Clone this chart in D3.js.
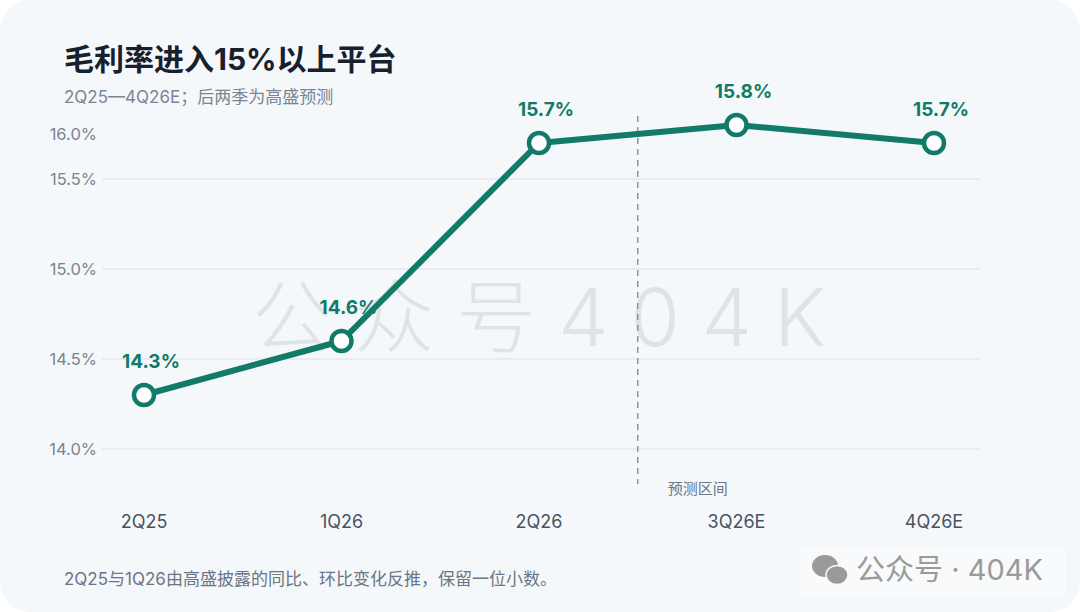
<!DOCTYPE html>
<html lang="zh">
<head>
<meta charset="UTF-8">
<title>毛利率进入15%以上平台</title>
<style>
  html, body { margin: 0; padding: 0; background: #ffffff; }
  svg { display: block; font-family: Inter, "Noto Sans CJK SC", sans-serif; }
</style>
</head>
<body>
<div id="chart"></div>
<script src="https://cdn.jsdelivr.net/npm/d3@7"></script>
<script>
// data
const quarters = ["2Q25", "1Q26", "2Q26", "3Q26E", "4Q26E"];
const grossMargin = [14.3, 14.6, 15.7, 15.8, 15.7];
const yTicks = [14.0, 14.5, 15.0, 15.5, 16.0];
const forecastFrom = "3Q26E";

const W = 1080, H = 612;
const green = "#127a68";

const svg = d3.select("#chart").append("svg")
    .attr("width", W)
    .attr("height", H);

// card
svg.append("rect")
    .attr("x", 0).attr("y", 0)
    .attr("width", W).attr("height", H)
    .attr("rx", 30)
    .attr("fill", "#f4f8fa");

// title + subtitle
svg.append("text")
    .attr("x", 64).attr("y", 70)
    .attr("font-size", 30).attr("font-weight", 700)
    .attr("fill", "#18202e")
    .text("毛利率进入15%以上平台");
svg.append("text")
    .attr("x", 64).attr("y", 103)
    .attr("font-size", 17)
    .attr("fill", "#7a8494")
    .text("2Q25—4Q26E；后两季为高盛预测");

const x = d3.scalePoint().domain(quarters).range([144, 934]);
const y = d3.scaleLinear().domain([14, 16]).range([449, 89]);
const plotTop = 120, labelTop = 134;

// gridlines (only those inside the plot area)
svg.append("g")
    .selectAll("line")
    .data(yTicks.filter(t => y(t) >= plotTop))
    .enter().append("line")
    .attr("x1", 102).attr("x2", 980)
    .attr("y1", d => y(d)).attr("y2", d => y(d))
    .attr("stroke", "#e5e9ee")
    .attr("stroke-width", 1.5);

// y tick labels
svg.append("g")
    .selectAll("text")
    .data(yTicks)
    .enter().append("text")
    .attr("x", 97)
    .attr("y", d => Math.max(y(d), labelTop))
    .attr("dy", "0.35em")
    .attr("text-anchor", "end")
    .attr("font-size", 16.5)
    .attr("fill", "#7a8494")
    .text(d => d.toFixed(1) + "%");

// watermark
svg.append("text")
    .attr("x", 550).attr("y", 346)
    .attr("text-anchor", "middle")
    .attr("font-size", 80)
    .attr("font-weight", 300)
    .attr("letter-spacing", 22)
    .attr("fill", "#d9dcdf")
    .attr("fill-opacity", 0.75)
    .text("公众号404K");

// forecast divider
const xi = quarters.indexOf(forecastFrom);
const divX = (x(quarters[xi - 1]) + x(quarters[xi])) / 2;
svg.append("line")
    .attr("x1", divX).attr("x2", divX)
    .attr("y1", 116).attr("y2", 484)
    .attr("stroke", "#8a93a6")
    .attr("stroke-width", 1.5)
    .attr("stroke-dasharray", "6,5");
svg.append("text")
    .attr("x", divX + 30).attr("y", 494)
    .attr("font-size", 15)
    .attr("fill", "#6b7585")
    .text("预测区间");

// x labels
svg.append("g")
    .selectAll("text")
    .data(quarters)
    .enter().append("text")
    .attr("x", d => x(d))
    .attr("y", 528)
    .attr("text-anchor", "middle")
    .attr("font-size", 18)
    .attr("fill", "#4a5262")
    .text(d => d);

// line
const pts = quarters.map((q, i) => ({ q: q, v: grossMargin[i] }));
svg.append("path")
    .datum(pts)
    .attr("d", d3.line().x(d => x(d.q)).y(d => y(d.v)))
    .attr("fill", "none")
    .attr("stroke", green)
    .attr("stroke-width", 6)
    .attr("stroke-linejoin", "round")
    .attr("stroke-linecap", "round");

svg.append("g")
    .selectAll("circle")
    .data(pts)
    .enter().append("circle")
    .attr("cx", d => x(d.q))
    .attr("cy", d => y(d.v))
    .attr("r", 10)
    .attr("fill", "#ffffff")
    .attr("stroke", green)
    .attr("stroke-width", 4.5);

svg.append("g")
    .selectAll("text")
    .data(pts)
    .enter().append("text")
    .attr("x", d => x(d.q) + 7)
    .attr("y", d => y(d.v) - 27)
    .attr("text-anchor", "middle")
    .attr("font-size", 19)
    .attr("font-weight", 700)
    .attr("fill", green)
    .text(d => d.v.toFixed(1) + "%");

// footnote
svg.append("text")
    .attr("x", 64).attr("y", 585)
    .attr("font-size", 17)
    .attr("fill", "#6b7585")
    .text("2Q25与1Q26由高盛披露的同比、环比变化反推，保留一位小数。");

// source badge
const badge = svg.append("g").attr("transform", "translate(800,546)");
badge.append("rect")
    .attr("x", 0).attr("y", 0)
    .attr("width", 266).attr("height", 50)
    .attr("rx", 6)
    .attr("fill", "#f8fafb")
    .attr("fill-opacity", 0.85);
badge.append("ellipse").attr("cx", 25).attr("cy", 20).attr("rx", 13).attr("ry", 11).attr("fill", "#9a9a9a");
badge.append("ellipse").attr("cx", 37).attr("cy", 29).attr("rx", 11).attr("ry", 9.5).attr("fill", "#9a9a9a")
    .attr("stroke", "#f8fafb").attr("stroke-width", 1.5);
badge.append("text")
    .attr("x", 56).attr("y", 34)
    .attr("font-size", 29)
    .attr("fill", "#9a9a9a")
    .text("公众号 · 404K");
</script>
</body>
</html>
